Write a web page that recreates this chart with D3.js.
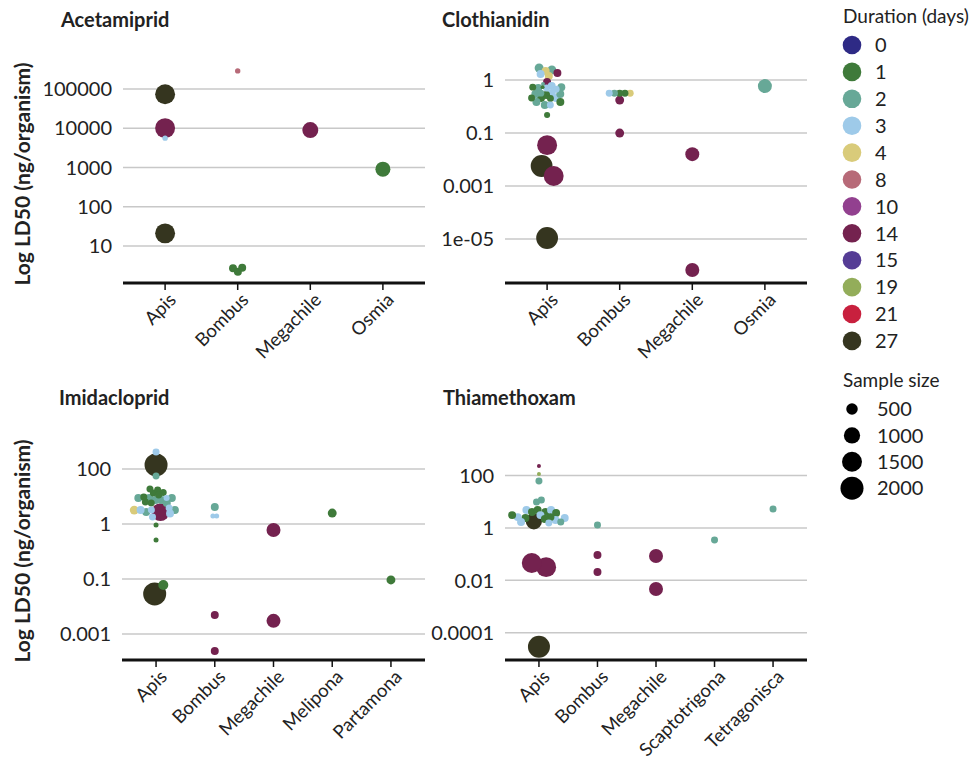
<!DOCTYPE html>
<html>
<head>
<meta charset="utf-8">
<script src="https://cdn.jsdelivr.net/npm/d3@7"></script>
<style>
	body { margin: 0; background: #fff; }
	text { font-family: Lato, "Open Sans", sans-serif; fill: #222; }
</style>
</head>
<body>
<script>
// legend data
const durations = [0, 1, 2, 3, 4, 8, 10, 14, 15, 19, 21, 27];
const durationColors = ["#2e2a85", "#3f7a3a", "#67a897", "#9ecae9", "#d9cb7a", "#b76a78",
	"#92408f", "#74224f", "#553c95", "#93ad5a", "#c8203e", "#35351f"];
const sampleSizes = [500, 1000, 1500, 2000];

// genera per compound
const acetGenera = ["Apis", "Bombus", "Megachile", "Osmia"];
const clothGenera = ["Apis", "Bombus", "Megachile", "Osmia"];
const imidGenera = ["Apis", "Bombus", "Megachile", "Melipona", "Partamona"];
const thiaGenera = ["Apis", "Bombus", "Megachile", "Scaptotrigona", "Tetragonisca"];

// y ticks (tick labels as printed on the original)
const acetTicks = [10, 100, 1000, 10000, 100000];
const acetTickLabels = ["10", "100", "1000", "10000", "100000"];
const clothTicks = [1, 0.01, 1e-4, 1e-6];
const clothTickLabels = ["1", "0.1", "0.001", "1e-05"];
const imidTicks = [100, 1, 0.01, 1e-4];
const imidTickLabels = ["100", "1", "0.1", "0.001"];
const thiaTicks = [100, 1, 0.01, 1e-4];
const thiaTickLabels = ["100", "1", "0.01", "0.0001"];

// y extents
const acetDomain = [1.14, 5.5e5];
const clothDomain = [2.2e-8, 5.7];
const imidDomain = [1.13e-5, 1720];
const thiaDomain = [9.1e-6, 3550];

// [genus, duration (days), LD50 (ng/organism), sample size]
const acetPoints = [
	["Apis", 27, 74000, 1500], ["Apis", 14, 10100, 1500], ["Apis", 3, 5600, 110],
	["Apis", 27, 21, 1500], ["Bombus", 8, 290000, 110], ["Bombus", 1, 2.7, 240],
	["Bombus", 1, 2.2, 240], ["Bombus", 1, 2.8, 240], ["Megachile", 14, 9000, 970],
	["Osmia", 1, 910, 850]
];
const clothPoints = [
	["Apis", 2, 2.84, 300], ["Apis", 2, 2.4, 300], ["Apis", 4, 2.2, 240], ["Apis", 4, 1.42, 240],
	["Apis", 14, 1.84, 240], ["Apis", 3, 1.68, 240], ["Apis", 14, 0.84, 240], ["Apis", 2, 0.71, 60],
	["Apis", 1, 0.54, 60], ["Apis", 3, 0.5, 180], ["Apis", 2, 0.5, 240], ["Apis", 2, 0.54, 240],
	["Apis", 1, 0.54, 180], ["Apis", 3, 0.32, 240], ["Apis", 2, 0.32, 180], ["Apis", 1, 0.21, 240],
	["Apis", 1, 0.27, 240], ["Apis", 2, 0.3, 240], ["Apis", 3, 0.21, 240], ["Apis", 2, 0.148, 240],
	["Apis", 1, 0.148, 240], ["Apis", 1, 0.2, 180], ["Apis", 2, 0.114, 240], ["Apis", 2, 0.3, 240],
	["Apis", 1, 0.21, 180], ["Apis", 3, 0.114, 180], ["Apis", 1, 0.048, 140], ["Apis", 3, 0.6, 240],
	["Apis", 3, 0.45, 180],
	["Apis", 14, 0.0035, 1500], ["Apis", 27, 0.00057, 1800], ["Apis", 14, 0.00024, 1500],
	["Apis", 27, 1.1e-6, 1800],
	["Bombus", 4, 0.32, 185], ["Bombus", 1, 0.32, 185], ["Bombus", 1, 0.32, 185],
	["Bombus", 2, 0.32, 185], ["Bombus", 3, 0.32, 185], ["Bombus", 14, 0.176, 300],
	["Bombus", 14, 0.01, 300],
	["Megachile", 14, 0.0016, 740], ["Megachile", 14, 6.8e-8, 740],
	["Osmia", 2, 0.59, 740]
];
const imidPoints = [
	["Apis", 27, 140, 2000], ["Apis", 3, 415, 185], ["Apis", 2, 56, 185], ["Apis", 1, 13.4, 185],
	["Apis", 1, 18.7, 185], ["Apis", 1, 14, 185], ["Apis", 1, 17.2, 185], ["Apis", 1, 11.3, 185],
	["Apis", 1, 9.6, 185], ["Apis", 2, 8.8, 240], ["Apis", 2, 7.5, 240], ["Apis", 2, 8.8, 240],
	["Apis", 2, 7.5, 240], ["Apis", 2, 8.8, 240], ["Apis", 1, 5.8, 185], ["Apis", 1, 6.3, 185],
	["Apis", 2, 5.8, 240], ["Apis", 3, 8.8, 140], ["Apis", 2, 3.2, 240], ["Apis", 3, 3.8, 185],
	["Apis", 3, 1.8, 185], ["Apis", 2, 2.7, 240], ["Apis", 4, 3.2, 300], ["Apis", 14, 2.7, 1200],
	["Apis", 3, 3.2, 240], ["Apis", 3, 2.4, 240], ["Apis", 3, 3.2, 185], ["Apis", 1, 0.92, 95],
	["Apis", 1, 0.26, 95], ["Apis", 1, 0.006, 380], ["Apis", 27, 0.00285, 2000],
	["Bombus", 2, 4.15, 240], ["Bombus", 3, 1.95, 95], ["Bombus", 3, 1.95, 95],
	["Bombus", 14, 0.00049, 240], ["Bombus", 14, 2.4e-5, 240],
	["Megachile", 14, 0.6, 740], ["Megachile", 14, 0.0003, 740],
	["Melipona", 1, 2.5, 300],
	["Partamona", 1, 0.0092, 300]
];
const thiaPoints = [
	["Apis", 14, 233, 60], ["Apis", 19, 115, 60], ["Apis", 2, 62, 185], ["Apis", 2, 9.8, 185],
	["Apis", 2, 11.7, 185], ["Apis", 3, 4.9, 240], ["Apis", 1, 4.1, 240], ["Apis", 1, 4.9, 240],
	["Apis", 1, 4.1, 240], ["Apis", 3, 4.9, 240], ["Apis", 1, 3.7, 240], ["Apis", 3, 2.0, 240],
	["Apis", 1, 2.4, 240], ["Apis", 2, 1.7, 185], ["Apis", 3, 2.6, 240], ["Apis", 3, 2.4, 240],
	["Apis", 1, 2.6, 240], ["Apis", 3, 3.1, 240], ["Apis", 1, 2.2, 240], ["Apis", 27, 1.8, 1000],
	["Apis", 3, 1.7, 240], ["Apis", 1, 3.1, 240], ["Apis", 3, 1.55, 185],
	["Apis", 14, 0.032, 1500], ["Apis", 14, 0.046, 1500], ["Apis", 27, 2.9e-5, 1830],
	["Bombus", 2, 1.3, 185], ["Bombus", 14, 0.093, 240], ["Bombus", 14, 0.021, 240],
	["Megachile", 14, 0.085, 740], ["Megachile", 14, 0.0047, 740],
	["Scaptotrigona", 2, 0.35, 185],
	["Tetragonisca", 2, 5.3, 185]
];

const width = 972;
const height = 761;

const color = d3.scaleOrdinal().domain(durations).range(durationColors);
const size = d3.scaleSqrt().domain([0, 2000]).range([0, 11.5]);

const svg = d3
	.select("body")
	.append("svg")
	.attr("width", width)
	.attr("height", height);

// panel layout
const panels = [
	{ title: "Acetamiprid", genera: acetGenera, points: acetPoints, ticks: acetTicks, labels: acetTickLabels,
		domain: acetDomain, x0: 123, x1: 425, top: 60, bottom: 283, titleX: 61, titleY: 27, yTitle: true },
	{ title: "Clothianidin", genera: clothGenera, points: clothPoints, ticks: clothTicks, labels: clothTickLabels,
		domain: clothDomain, x0: 505, x1: 807, top: 60, bottom: 283, titleX: 442, titleY: 27, yTitle: false },
	{ title: "Imidacloprid", genera: imidGenera, points: imidPoints, ticks: imidTicks, labels: imidTickLabels,
		domain: imidDomain, x0: 122, x1: 425, top: 435, bottom: 660, titleX: 59, titleY: 405, yTitle: true },
	{ title: "Thiamethoxam", genera: thiaGenera, points: thiaPoints, ticks: thiaTicks, labels: thiaTickLabels,
		domain: thiaDomain, x0: 505, x1: 807, top: 435, bottom: 660, titleX: 443, titleY: 405, yTitle: false }
];

const drawPanel = (p) => {
	const x = d3.scalePoint().domain(p.genera).range([p.x0, p.x1]).padding(0.58);
	const y = d3.scaleLog().domain(p.domain).range([p.bottom, p.top]);
	const g = svg.append("g");

	g.append("text")
		.attr("x", p.titleX)
		.attr("y", p.titleY)
		.attr("font-size", 20)
		.attr("font-weight", "bold")
		.attr("fill", "#000")
		.text(p.title);

	// gridlines + tick labels
	g.selectAll("line.grid")
		.data(p.ticks)
		.enter()
		.append("line")
		.attr("class", "grid")
		.attr("x1", p.x0)
		.attr("x2", p.x1)
		.attr("y1", (d) => y(d))
		.attr("y2", (d) => y(d))
		.attr("stroke", "#c8c8c8")
		.attr("stroke-width", 1.5);

	g.selectAll("text.ytick")
		.data(p.ticks)
		.enter()
		.append("text")
		.attr("class", "ytick")
		.attr("x", p.x0 - 11)
		.attr("y", (d) => y(d))
		.attr("dy", "0.36em")
		.attr("text-anchor", "end")
		.attr("font-size", 20)
		.text((d, i) => p.labels[i]);

	// baseline with category ticks
	g.append("line")
		.attr("x1", p.x0)
		.attr("x2", p.x1)
		.attr("y1", p.bottom)
		.attr("y2", p.bottom)
		.attr("stroke", "#111")
		.attr("stroke-width", 3);

	g.selectAll("line.xtick")
		.data(p.genera)
		.enter()
		.append("line")
		.attr("class", "xtick")
		.attr("x1", (d) => x(d))
		.attr("x2", (d) => x(d))
		.attr("y1", p.bottom)
		.attr("y2", p.bottom + 7)
		.attr("stroke", "#111")
		.attr("stroke-width", 1.5);

	g.selectAll("text.xlab")
		.data(p.genera)
		.enter()
		.append("text")
		.attr("class", "xlab")
		.attr("transform", (d) => `translate(${x(d) + 12},${p.bottom + 18}) rotate(-45)`)
		.attr("text-anchor", "end")
		.attr("font-size", 18.5)
		.text((d) => d);

	if (p.yTitle) {
		g.append("text")
			.attr("transform", `translate(30,${p.bottom - 109}) rotate(-90)`)
			.attr("text-anchor", "middle")
			.attr("font-size", 21)
			.attr("font-weight", "bold")
			.attr("fill", "#000")
			.text("Log LD50 (ng/organism)");
	}

	// jitter the points sideways like a beeswarm, y stays on the value
	const nodes = p.points.map((d) => ({
		genus: d[0],
		days: d[1],
		value: d[2],
		n: d[3],
		r: size(d[3]),
		cx: x(d[0]),
		x: x(d[0]),
		fy: y(d[2])
	}));
	const simulation = d3
		.forceSimulation(nodes)
		.force("x", d3.forceX((d) => d.cx).strength(0.14))
		.force("collide", d3.forceCollide((d) => d.r * 0.75).strength(0.7))
		.stop();
	for (let i = 0; i < 300; i++) simulation.tick();

	nodes.sort((a, b) => b.r - a.r);
	g.selectAll("circle")
		.data(nodes)
		.enter()
		.append("circle")
		.attr("cx", (d) => d.x)
		.attr("cy", (d) => d.fy)
		.attr("r", (d) => d.r)
		.attr("fill", (d) => color(d.days));
};

panels.forEach((p) => drawPanel(p));

// legends
const legend = svg.append("g");
legend.append("text")
	.attr("x", 843)
	.attr("y", 23)
	.attr("font-size", 19)
	.text("Duration (days)");

const durItem = legend
	.selectAll("g.dur")
	.data(durations)
	.enter()
	.append("g")
	.attr("class", "dur")
	.attr("transform", (d, i) => `translate(852,${45 + i * 26.9})`);
durItem.append("circle").attr("r", 9.3).attr("fill", (d) => color(d));
durItem.append("text")
	.attr("x", 23)
	.attr("dy", "0.36em")
	.attr("font-size", 20)
	.text((d) => d);

legend.append("text")
	.attr("x", 843)
	.attr("y", 387)
	.attr("font-size", 19)
	.text("Sample size");

const sizeItem = legend
	.selectAll("g.size")
	.data(sampleSizes)
	.enter()
	.append("g")
	.attr("class", "size")
	.attr("transform", (d, i) => `translate(852,${409 + i * 26.4})`);
sizeItem.append("circle").attr("r", (d) => size(d)).attr("fill", "#000");
sizeItem.append("text")
	.attr("x", 25)
	.attr("dy", "0.36em")
	.attr("font-size", 20)
	.text((d) => d);
</script>
</body>
</html>
